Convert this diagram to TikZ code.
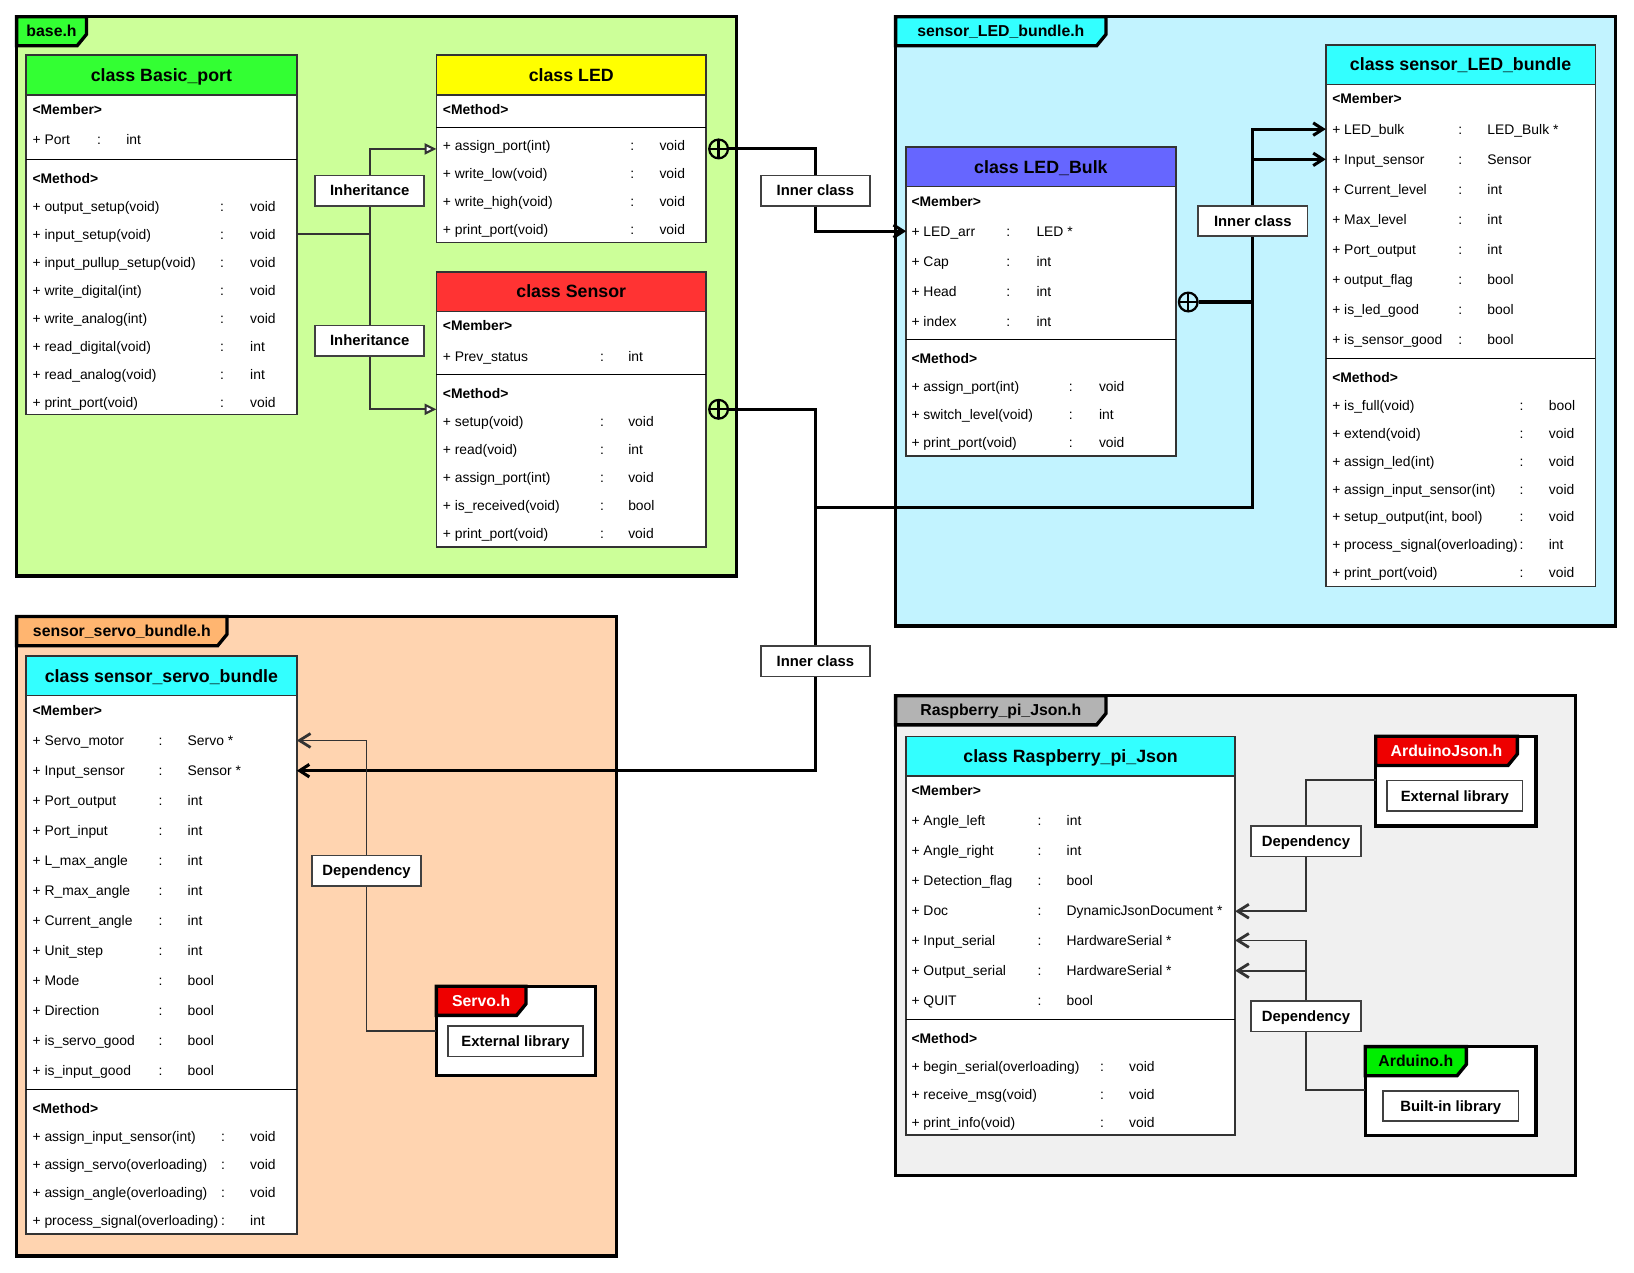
\documentclass[tikz,border=0pt]{standalone}
\usepackage{fontspec}
\setmainfont{Liberation Sans}
\usetikzlibrary{arrows.meta}

\definecolor{basefill}{HTML}{CCFF99}
\definecolor{basetab}{HTML}{33FF33}
\definecolor{ledfill}{HTML}{C2F3FF}
\definecolor{cyanhead}{HTML}{33FFFF}
\definecolor{servofill}{HTML}{FFD4B0}
\definecolor{servotab}{HTML}{FFB570}
\definecolor{rpifill}{HTML}{F0F0F0}
\definecolor{rpitab}{HTML}{B3B3B3}
\definecolor{ledhead}{HTML}{FFFF00}
\definecolor{sensorhead}{HTML}{FF3333}
\definecolor{bulkhead}{HTML}{6666FF}
\definecolor{extred}{HTML}{EE0000}
\definecolor{builtgreen}{HTML}{00EE00}

\tikzset{
  pkgline/.style={line width=2.4pt, draw=black},
  classline/.style={line width=1.1pt, draw=black!80},
  sepline/.style={line width=0.8pt, draw=black},
  row/.style={anchor=west, inner sep=0pt, text height=7.2pt, text depth=0pt, font=\fontsize{10}{12}\selectfont},
  rowhead/.style={row, font=\bfseries\fontsize{10}{12}\selectfont},
  head/.style={inner sep=0pt, text height=9.2pt, text depth=0pt, font=\bfseries\fontsize{12.8}{15}\selectfont},
  tag/.style={inner sep=0pt, text height=8.2pt, text depth=0pt, font=\bfseries\fontsize{11.4}{13}\selectfont},
  lbl/.style={draw=black!75, line width=1.3pt, fill=white, minimum width=78.75pt, minimum height=21.75pt, inner sep=0pt, text height=7.7pt, text depth=0pt, font=\bfseries\fontsize{10.7}{12}\selectfont},
  libbox/.style={lbl, minimum width=97.5pt},
  nest/.style={circle, draw=black, line width=1.6pt, minimum size=13.5pt, inner sep=0pt,
    path picture={\draw[line width=1.6pt] (path picture bounding box.north) -- (path picture bounding box.south) (path picture bounding box.west) -- (path picture bounding box.east);}},
  innerln/.style={line width=2.2pt},
  innerarr/.style={innerln, -{Straight Barb[length=7pt,width=9pt]}},
  inherit/.style={line width=1.3pt, draw=black!80},
  inheritarr/.style={inherit, -{Triangle[length=8.5pt,width=8pt,fill=white,line width=1.5pt]}},
  depln/.style={line width=1.3pt, draw=black!80},
  deparr/.style={depln, -{Straight Barb[length=8pt,width=10pt,line width=2pt]}}
}

% package frame with its tab: x0,y0,x1,y1,fill,tab end,tab colour,text,name
\newcommand{\umlpackage}[9]{%
  \draw[pkgline, fill=#5] (#1,#2) rectangle (#3,#4);
  \draw[pkgline, fill=#7] (#1,#2) -- (#6,#2) -- (#6,#2+17) -- (#6-9,#2+28) -- (#1,#2+28) -- cycle;
  \node[tag] (#9) at ({(#1+#6)/2},#2+14) {#8};
}
% class box with header: x0,y0,x1,y1,colour,title,name
\newcommand{\umlclass}[7]{%
  \draw[classline, fill=white] (#1,#2) rectangle (#3,#4);
  \draw[classline, fill=#5] (#1,#2) rectangle (#3,#2+38);
  \node[head] (#7) at ({(#1+#3)/2},#2+19) {#6};
}
% rows: name, x, first y, pitch, colon x, type x, list
\newcommand{\umlrows}[7]{%
  \foreach \n/\t [count=\i] in {#7} {
    \node[row] (#1-\i) at (#2,{#3+#4*(\i-1)}) {\ignorespaces\n};
    \node[row] (#1-\i-c) at (#5,{#3+#4*(\i-1)}) {:};
    \node[row] (#1-\i-t) at (#6,{#3+#4*(\i-1)}) {\ignorespaces\t};
  }}

\begin{document}
\begin{tikzpicture}[x=0.75pt, y=-0.75pt]
\useasboundingbox (0,0) rectangle (1569,1222);

% header files
\umlpackage{16}{16}{707}{553}{basefill}{83}{basetab}{base.h}{pk-base}
\umlpackage{860}{16}{1551}{601}{ledfill}{1062}{cyanhead}{sensor\_LED\_bundle.h}{pk-led}
\umlpackage{16}{592}{592}{1206}{servofill}{218}{servotab}{sensor\_servo\_bundle.h}{pk-servo}
\umlpackage{860}{668}{1513}{1129}{rpifill}{1062}{rpitab}{Raspberry\_pi\_Json.h}{pk-rpi}
\umlpackage{419}{947}{572}{1033}{white}{505}{extred}{\color{white}Servo.h}{pk-servolib}
\umlpackage{1321}{707}{1475}{793}{white}{1457}{extred}{\color{white}ArduinoJson.h}{pk-json}
\umlpackage{1311}{1005}{1475}{1090}{white}{1408}{builtgreen}{Arduino.h}{pk-arduino}

% class Basic_port
\umlclass{25}{53}{285}{398}{basetab}{class Basic\_port}{bp}
\node[rowhead] (bp-mem) at (31,105) {<Member>};
\umlrows{bp-m}{31}{134}{29}{93}{121}{+ Port/int}
\draw[sepline] (25,153) -- (285,153);
\node[rowhead] (bp-met) at (31,171) {<Method>};
\umlrows{bp-f}{31}{198}{26.9}{211}{240}{+ output\_setup(void)/void, + input\_setup(void)/void,
  + input\_pullup\_setup(void)/void, + write\_digital(int)/void, + write\_analog(int)/void,
  + read\_digital(void)/int, + read\_analog(void)/int, + print\_port(void)/void}

% class LED
\umlclass{419}{53}{678}{233}{ledhead}{class LED}{led}
\node[rowhead] (led-met) at (425,105) {<Method>};
\draw[sepline] (419,122) -- (678,122);
\umlrows{led-f}{425}{140}{26.9}{605}{633}{+ assign\_port(int)/void, + write\_low(void)/void,
  + write\_high(void)/void, + print\_port(void)/void}

% class Sensor
\umlclass{419}{261}{678}{525}{sensorhead}{class Sensor}{sen}
\node[rowhead] (sen-mem) at (425,313) {<Member>};
\umlrows{sen-m}{425}{342}{29}{576}{603}{+ Prev\_status/int}
\draw[sepline] (419,360) -- (678,360);
\node[rowhead] (sen-met) at (425,378) {<Method>};
\umlrows{sen-f}{425}{405}{26.9}{576}{603}{+ setup(void)/void, + read(void)/int, + assign\_port(int)/void,
  + is\_received(void)/bool, + print\_port(void)/void}

% class LED_Bulk
\umlclass{870}{141}{1129}{438}{bulkhead}{class LED\_Bulk}{bulk}
\node[rowhead] (bulk-mem) at (875,193) {<Member>};
\umlrows{bulk-m}{875}{222}{28.8}{966}{995}{+ LED\_arr/LED *, + Cap/int, + Head/int, + index/int}
\draw[sepline] (870,326) -- (1129,326);
\node[rowhead] (bulk-met) at (875,344) {<Method>};
\umlrows{bulk-f}{875}{371}{27}{1026}{1055}{+ assign\_port(int)/void, + switch\_level(void)/int,
  + print\_port(void)/void}

% class sensor_LED_bundle
\umlclass{1273}{43}{1532}{563}{cyanhead}{class sensor\_LED\_bundle}{slb}
\node[rowhead] (slb-mem) at (1279,95) {<Member>};
\umlrows{slb-m}{1279}{124}{28.85}{1400}{1428}{+ LED\_bulk/LED\_Bulk *, + Input\_sensor/Sensor,
  + Current\_level/int, + Max\_level/int, + Port\_output/int, + output\_flag/bool,
  + is\_led\_good/bool, + is\_sensor\_good/bool}
\draw[sepline] (1273,344) -- (1532,344);
\node[rowhead] (slb-met) at (1279,362) {<Method>};
\umlrows{slb-f}{1279}{389}{26.85}{1459}{1487}{+ is\_full(void)/bool, + extend(void)/void,
  + assign\_led(int)/void, + assign\_input\_sensor(int)/void, {+ setup\_output(int, bool)}/void,
  + process\_signal(overloading)/int, + print\_port(void)/void}

% class sensor_servo_bundle
\umlclass{25}{630}{285}{1185}{cyanhead}{class sensor\_servo\_bundle}{ssb}
\node[rowhead] (ssb-mem) at (31,682) {<Member>};
\umlrows{ssb-m}{31}{711}{28.8}{152}{180}{+ Servo\_motor/Servo *, + Input\_sensor/Sensor *,
  + Port\_output/int, + Port\_input/int, + L\_max\_angle/int, + R\_max\_angle/int,
  + Current\_angle/int, + Unit\_step/int, + Mode/bool, + Direction/bool,
  + is\_servo\_good/bool, + is\_input\_good/bool}
\draw[sepline] (25,1046) -- (285,1046);
\node[rowhead] (ssb-met) at (31,1064) {<Method>};
\umlrows{ssb-f}{31}{1091}{27}{212}{240}{+ assign\_input\_sensor(int)/void, + assign\_servo(overloading)/void,
  + assign\_angle(overloading)/void, + process\_signal(overloading)/int}

% class Raspberry_pi_Json
\umlclass{870}{707}{1186}{1090}{cyanhead}{class Raspberry\_pi\_Json}{rpj}
\node[rowhead] (rpj-mem) at (875,759) {<Member>};
\umlrows{rpj-m}{875}{788}{28.8}{996}{1024}{+ Angle\_left/int, + Angle\_right/int, + Detection\_flag/bool,
  + Doc/DynamicJsonDocument *, + Input\_serial/HardwareSerial *, + Output\_serial/HardwareSerial *,
  + QUIT/bool}
\draw[sepline] (870,979) -- (1186,979);
\node[rowhead] (rpj-met) at (875,997) {<Method>};
\umlrows{rpj-f}{875}{1024}{27}{1056}{1084}{+ begin\_serial(overloading)/void, + receive\_msg(void)/void,
  + print\_info(void)/void}

% libraries
\node[libbox] (servo-lib) at (495,1000) {External library};
\node[libbox] (json-lib) at (1397,764) {External library};
\node[libbox] (arduino-lib) at (1393,1062) {Built-in library};

% relation labels
\node[lbl] (inh1) at (355,183) {Inheritance};
\node[lbl] (inh2) at (355,327) {Inheritance};
\node[lbl] (ic1) at (783,183) {Inner class};
\node[lbl] (ic2) at (1203,212) {Inner class};
\node[lbl] (ic3) at (783,635) {Inner class};
\node[lbl] (dep1) at (352,836) {Dependency};
\node[lbl] (dep2) at (1254,808) {Dependency};
\node[lbl] (dep3) at (1254,976) {Dependency};

\node[nest] (n1) at (690,143) {};
\node[nest] (n2) at (690,393) {};
\node[nest] (n3) at (1141,290) {};

\coordinate (bp-out) at (285,225);
\coordinate (led-in) at (419,143);
\coordinate (sen-in) at (419,393);
\coordinate (bulk-in) at (870,222);
\coordinate (ssb-servo) at (285,711);
\coordinate (ssb-sensor) at (285,740);
\coordinate (jn) at (783,487);
\coordinate (slb-bulk) at (1273,124);
\coordinate (slb-sensor) at (1273,153);
\coordinate (servo-lib-in) at (419,990);
\coordinate (json-in) at (1321,749);
\coordinate (arduino-in) at (1311,1047);
\coordinate (rpj-doc) at (1186,875);
\coordinate (rpj-in) at (1186,903);
\coordinate (rpj-out) at (1186,932);

% inheritance
\draw[inherit] (bp-out) -| (inh1.south);
\draw[inheritarr] (inh1.north) |- (led-in);
\draw[inherit] (bp-out) -| (inh2.north);
\draw[inheritarr] (inh2.south) |- (sen-in);

% inner classes
\draw[innerln] (n1.east) -| (ic1.north);
\draw[innerarr] (ic1.south) |- (bulk-in);
\draw[innerln] (n2.east) -| (ic3.north);
\draw[innerarr] (ic3.south) |- (ssb-sensor);
\draw[innerln] (jn) -| (ic2.south);
\draw[innerln] (n3.east) -- (n3.east -| ic2.south);
\draw[innerarr] (ic2.north) |- (slb-bulk);
\draw[innerarr] (ic2.north) |- (slb-sensor);

% dependencies
\draw[depln] (servo-lib-in) -| (dep1.south);
\draw[deparr] (dep1.north) |- (ssb-servo);
\draw[depln] (json-in) -| (dep2.north);
\draw[deparr] (dep2.south) |- (rpj-doc);
\draw[depln] (arduino-in) -| (dep3.south);
\draw[deparr] (dep3.north) |- (rpj-in);
\draw[deparr] (dep3.north) |- (rpj-out);
\end{tikzpicture}
\end{document}
